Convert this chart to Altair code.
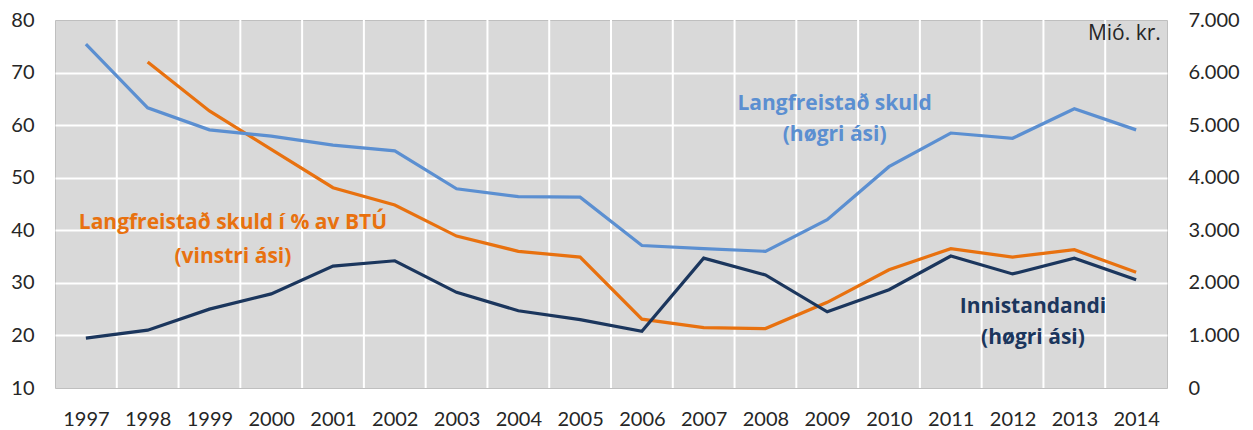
import altair as alt
import pandas as pd

years = list(range(1997, 2015))
# Langfreistað skuld (right axis, Mió. kr.)
langfreistad_skuld = [6540, 5330, 4910, 4790, 4620, 4510, 3790, 3640, 3630, 2710,
                      2650, 2600, 3200, 4210, 4850, 4750, 5310, 4910]
# Innistandandi (right axis, Mió. kr.)
innistandandi = [950, 1100, 1500, 1790, 2320, 2420, 1820, 1470, 1300, 1080,
                 2470, 2150, 1450, 1870, 2510, 2170, 2470, 2060]
# Langfreistað skuld í % av BTÚ (left axis)
skuld_pct_btu = [None, 72.0, 62.7, 55.4, 48.1, 44.8, 38.9, 36.0, 34.9, 23.1,
                 21.5, 21.3, 26.3, 32.5, 36.5, 34.9, 36.3, 32.0]

left_ticks = [10, 20, 30, 40, 50, 60, 70, 80]
right_ticks = [0, 1000, 2000, 3000, 4000, 5000, 6000, 7000]

FONT = "Lato"
ANN_FONT = "Open Sans"
C_BLUE = "#5B8FD1"
C_ORANGE = "#E8710F"
C_NAVY = "#1B365D"
C_TEXT = "#262626"

xscale = alt.Scale(domain=[1996.5, 2014.5], nice=False, zero=False)
lscale = alt.Scale(domain=[10, 80], nice=False, zero=False)
rscale = alt.Scale(domain=[0, 7000], nice=False)

xaxis = alt.Axis(values=years, format="d", grid=False, ticks=False, domain=False,
                 labelPadding=21, labelFontSize=20, labelFont=FONT, labelColor=C_TEXT,
                 title=None)

orange_df = pd.DataFrame({"year": years, "v": skuld_pct_btu}).dropna()
right_df = pd.DataFrame({
    "year": years * 2,
    "v": langfreistad_skuld + innistandandi,
    "s": ["Langfreistað skuld"] * len(years) + ["Innistandandi"] * len(years),
})
bounds_df = pd.DataFrame({"b": [y + 0.5 for y in years[:-1]]})

grid_v = alt.Chart(bounds_df).mark_rule(color="white", strokeWidth=2).encode(
    x=alt.X("b:Q", scale=xscale, axis=xaxis)
)

orange_line = alt.Chart(orange_df).mark_line(color=C_ORANGE, strokeWidth=3.2).encode(
    x=alt.X("year:Q", scale=xscale, axis=xaxis),
    y=alt.Y("v:Q", scale=lscale, axis=alt.Axis(
        values=left_ticks, orient="left", ticks=False, domain=False,
        labelPadding=21, labelFontSize=20, labelFont=FONT, labelColor=C_TEXT,
        title=None, grid=True, gridColor="white", gridWidth=2,
        gridOpacity={"condition": {"test": "datum.value == 10 || datum.value == 80", "value": 0}, "value": 1},
    )),
)

left_ann = pd.DataFrame({
    "year": [1999.38, 1999.38],
    "v": [41.3, 35.0],
    "t": ["Langfreistað skuld í % av BTÚ", "(vinstri ási)"],
})
orange_text = alt.Chart(left_ann).mark_text(
    color=C_ORANGE, font=ANN_FONT, fontSize=21, fontWeight="bold", align="center", baseline="middle"
).encode(
    x=alt.X("year:Q", scale=xscale),
    y=alt.Y("v:Q", scale=lscale),
    text="t:N",
)

unit_df = pd.DataFrame({"year": [2014.4], "v": [77.4], "t": ["Mió. kr."]})
unit_text = alt.Chart(unit_df).mark_text(
    color=C_TEXT, font=ANN_FONT, fontSize=21, align="right", baseline="middle"
).encode(
    x=alt.X("year:Q", scale=xscale),
    y=alt.Y("v:Q", scale=lscale),
    text="t:N",
)

left_layer = alt.layer(grid_v, orange_line, orange_text, unit_text)

right_lines = alt.Chart(right_df).mark_line(strokeWidth=3.2).encode(
    x=alt.X("year:Q", scale=xscale, axis=xaxis),
    y=alt.Y("v:Q", scale=rscale, axis=alt.Axis(
        values=right_ticks, orient="right", ticks=False, domain=False, grid=False,
        labelPadding=21, labelFontSize=20, labelFont=FONT, labelColor=C_TEXT,
        labelExpr="replace(format(datum.value, ',d'), ',', '.')", title=None,
    )),
    color=alt.Color("s:N", scale=alt.Scale(domain=["Langfreistað skuld", "Innistandandi"],
                                           range=[C_BLUE, C_NAVY]), legend=None),
    detail="s:N",
)

right_ann = pd.DataFrame({
    "year": [2009.12, 2009.12, 2012.33, 2012.33],
    "v": [5410, 4810, 1540, 960],
    "t": ["Langfreistað skuld", "(høgri ási)", "Innistandandi", "(høgri ási)"],
    "s": ["Langfreistað skuld", "Langfreistað skuld", "Innistandandi", "Innistandandi"],
})
right_text = alt.Chart(right_ann).mark_text(
    font=ANN_FONT, fontSize=21, fontWeight="bold", align="center", baseline="middle"
).encode(
    x=alt.X("year:Q", scale=xscale),
    y=alt.Y("v:Q", scale=rscale),
    text="t:N",
    color=alt.Color("s:N", scale=alt.Scale(domain=["Langfreistað skuld", "Innistandandi"],
                                           range=[C_BLUE, C_NAVY]), legend=None),
)

right_layer = alt.layer(right_lines, right_text)

chart = alt.layer(left_layer, right_layer).resolve_scale(y="independent").properties(
    width=1112,
    height=368,
    autosize=alt.AutoSizeParams(type="none"),
    padding={"left": 47, "top": 12, "right": 78, "bottom": 46},
    background="white",
).configure_view(
    fill="#D9D9D9", stroke="#BFBFBF", strokeWidth=1
)

chart.save("out.html", embed_options={"renderer": "svg", "actions": False})
